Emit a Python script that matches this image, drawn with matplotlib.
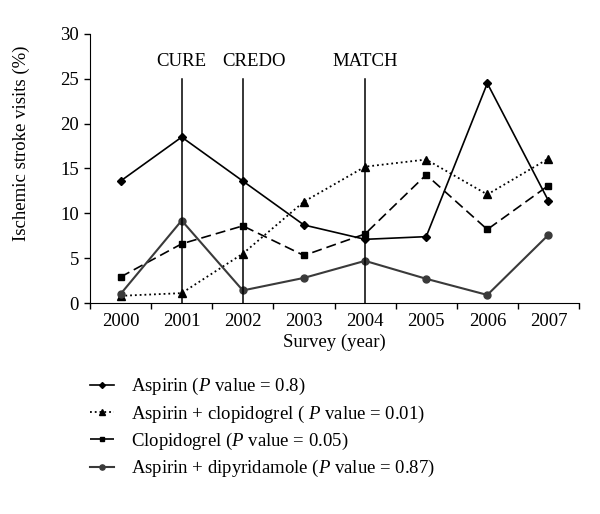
import matplotlib
matplotlib.use("Agg")
import matplotlib.pyplot as plt
import numpy as np

years = ["2000", "2001", "2002", "2003", "2004", "2005", "2006", "2007"]
aspirin = [13.6, 18.5, 13.6, 8.7, 7.1, 7.4, 24.5, 11.4]
asp_clop = [0.8, 1.1, 5.5, 11.3, 15.2, 16.0, 12.1, 16.1]
clop = [2.9, 6.6, 8.6, 5.3, 7.7, 14.3, 8.2, 13.1]
asp_dip = [1.0, 9.2, 1.4, 2.8, 4.7, 2.7, 0.9, 7.6]
trials = ["CURE", "CREDO", "MATCH"]
trial_years = ["2001", "2002", "2004"]
labels = [
    "Aspirin ($P$ value = 0.8)",
    "Aspirin + clopidogrel ( $P$ value = 0.01)",
    "Clopidogrel ($P$ value = 0.05)",
    "Aspirin + dipyridamole ($P$ value = 0.87)",
]

plt.rcParams['font.family'] = ['Liberation Serif', 'DejaVu Serif']
plt.rcParams['mathtext.fontset'] = 'custom'
plt.rcParams['mathtext.it'] = 'Liberation Serif:italic'
plt.rcParams['mathtext.rm'] = 'Liberation Serif'

FS = 13.5
fig = plt.figure(figsize=(6.0, 5.14), dpi=100)
ax = fig.add_axes([0.15, 0.4105, 0.815, 0.5234])

x = np.arange(len(years))
h1, = ax.plot(x, aspirin, '-', color='black', lw=1.2, marker='D', ms=4)
h2, = ax.plot(x, asp_clop, ':', color='black', lw=1.3, marker='^', ms=5.5)
h3, = ax.plot(x, clop, '--', color='black', lw=1.2, marker='s', ms=4.2, dashes=(6, 3))
h4, = ax.plot(x, asp_dip, '-', color='#3a3a3a', lw=1.5, marker='o', ms=5)

offsets = {"CURE": 0.0, "CREDO": 0.18, "MATCH": 0.0}
for name, yr in zip(trials, trial_years):
    xi = years.index(yr)
    ax.plot([xi, xi], [0, 25], color='black', lw=1.1)
    ax.text(xi + offsets[name], 26.9, name, ha='center', va='center', fontsize=FS)

ax.set_xlim(-0.5, len(years) - 0.5)
ax.set_ylim(0, 30)
ax.set_xticks(x)
ax.set_xticklabels(years, fontsize=FS)
ax.set_xticks(np.arange(-0.5, len(years)), minor=True)
ax.tick_params(axis='x', which='major', length=0, pad=7)
ax.tick_params(axis='x', which='minor', length=4, direction='out', width=1)
ax.set_yticks(np.arange(0, 31, 5))
ax.tick_params(axis='y', labelsize=FS, length=4, direction='out', width=1, pad=4)
ax.spines['top'].set_visible(False)
ax.spines['right'].set_visible(False)
ax.set_xlabel("Survey (year)", fontsize=FS, labelpad=3)
ax.set_ylabel("Ischemic stroke visits (%)", fontsize=FS)
ax.yaxis.set_label_coords(-0.123, 0.595)

fig.legend([h1, h2, h3, h4], labels, loc='upper left',
           bbox_to_anchor=(0.15, 0.268), frameon=False, fontsize=FS,
           handlelength=1.3, handletextpad=0.9, labelspacing=0.33,
           borderpad=0, borderaxespad=0, markerscale=0.75)

fig.savefig("out.png", dpi=100)
